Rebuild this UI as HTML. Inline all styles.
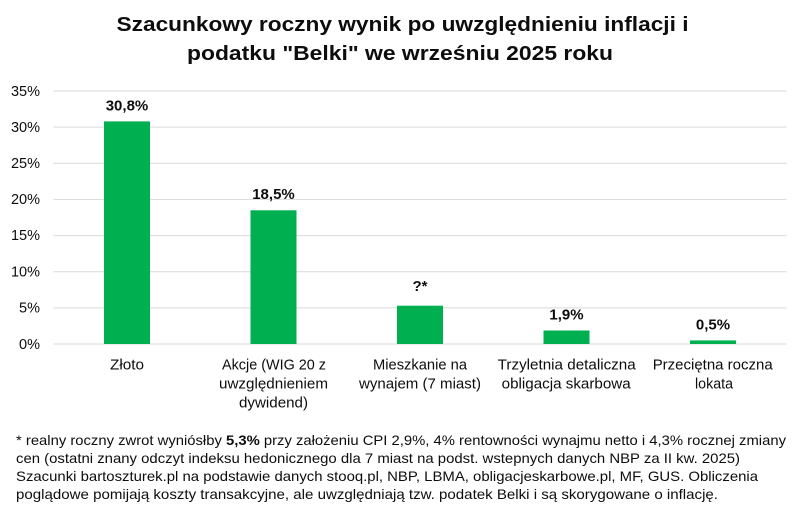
<!DOCTYPE html>
<html>
<head>
<meta charset="utf-8">
<style>
html,body{margin:0;padding:0;background:#fff;}
svg{display:block;}
text{font-family:"Liberation Sans",Arial,sans-serif;fill:#0d0d0d;}
</style>
</head>
<body>
<svg width="806" height="511" viewBox="0 0 806 511" xmlns="http://www.w3.org/2000/svg">
<rect width="806" height="511" fill="#fff"/>
<!-- Title -->
<text x="116.5" y="31" font-size="20" font-weight="bold" textLength="572" lengthAdjust="spacingAndGlyphs">Szacunkowy roczny wynik po uwzględnieniu inflacji i</text>
<text x="187" y="60" font-size="20" font-weight="bold" textLength="426" lengthAdjust="spacingAndGlyphs">podatku "Belki" we wrześniu 2025 roku</text>

<!-- Gridlines -->
<g stroke="#d9d9d9" stroke-width="1">
<line x1="53.5" x2="786.5" y1="91" y2="91"/>
<line x1="53.5" x2="786.5" y1="127.1" y2="127.1"/>
<line x1="53.5" x2="786.5" y1="163.3" y2="163.3"/>
<line x1="53.5" x2="786.5" y1="199.4" y2="199.4"/>
<line x1="53.5" x2="786.5" y1="235.6" y2="235.6"/>
<line x1="53.5" x2="786.5" y1="271.7" y2="271.7"/>
<line x1="53.5" x2="786.5" y1="307.9" y2="307.9"/>
<line x1="53.5" x2="786.5" y1="344" y2="344"/>
</g>

<!-- Y axis labels -->
<g font-size="14.5" text-anchor="end">
<text x="40" y="96">35%</text>
<text x="40" y="132">30%</text>
<text x="40" y="168">25%</text>
<text x="40" y="204">20%</text>
<text x="40" y="240">15%</text>
<text x="40" y="276.5">10%</text>
<text x="40" y="312.5">5%</text>
<text x="40" y="349">0%</text>
</g>

<!-- Bars -->
<g fill="#00b050">
<rect x="104" y="121.4" width="46" height="222.6"/>
<rect x="250.5" y="210.3" width="46" height="133.7"/>
<rect x="397" y="305.7" width="46" height="38.3"/>
<rect x="543.5" y="330.5" width="46" height="13.5"/>
<rect x="690" y="340.4" width="46" height="3.6"/>
</g>

<!-- Value labels -->
<g font-size="15" font-weight="bold" text-anchor="middle">
<text x="127" y="110.5">30,8%</text>
<text x="273.5" y="199">18,5%</text>
<text x="420" y="291">?*</text>
<text x="566.5" y="319.5">1,9%</text>
<text x="713" y="329.5">0,5%</text>
</g>

<!-- Category labels -->
<g font-size="15" text-anchor="middle">
<text x="127" y="369.5" textLength="34" lengthAdjust="spacingAndGlyphs">Złoto</text>
<text x="274" y="369.5" textLength="104" lengthAdjust="spacingAndGlyphs">Akcje (WIG 20 z</text>
<text x="273.5" y="388.5" textLength="109" lengthAdjust="spacingAndGlyphs">uwzględnieniem</text>
<text x="273.5" y="407.5" textLength="69" lengthAdjust="spacingAndGlyphs">dywidend)</text>
<text x="420" y="369.5" textLength="94" lengthAdjust="spacingAndGlyphs">Mieszkanie na</text>
<text x="420" y="388.5" textLength="122" lengthAdjust="spacingAndGlyphs">wynajem (7 miast)</text>
<text x="566.7" y="369.5" textLength="138" lengthAdjust="spacingAndGlyphs">Trzyletnia detaliczna</text>
<text x="566.2" y="388.5" textLength="129" lengthAdjust="spacingAndGlyphs">obligacja skarbowa</text>
<text x="712.7" y="369.5" textLength="120" lengthAdjust="spacingAndGlyphs">Przeciętna roczna</text>
<text x="714" y="388.5" textLength="38" lengthAdjust="spacingAndGlyphs">lokata</text>
</g>

<!-- Footnote -->
<g font-size="14">
<text x="16" y="445" textLength="770" lengthAdjust="spacingAndGlyphs">* realny roczny zwrot wyniósłby <tspan font-weight="bold">5,3%</tspan> przy założeniu CPI 2,9%, 4% rentowności wynajmu netto i 4,3% rocznej zmiany</text>
<text x="16" y="463" textLength="724" lengthAdjust="spacingAndGlyphs">cen (ostatni znany odczyt indeksu hedonicznego dla 7 miast na podst. wstepnych danych NBP za II kw. 2025)</text>
<text x="16" y="481" textLength="742" lengthAdjust="spacingAndGlyphs">Szacunki bartoszturek.pl na podstawie danych stooq.pl, NBP, LBMA, obligacjeskarbowe.pl, MF, GUS. Obliczenia</text>
<text x="16" y="499" textLength="702" lengthAdjust="spacingAndGlyphs">poglądowe pomijają koszty transakcyjne, ale uwzględniają tzw. podatek Belki i są skorygowane o inflację.</text>
</g>
</svg>
</body>
</html>
